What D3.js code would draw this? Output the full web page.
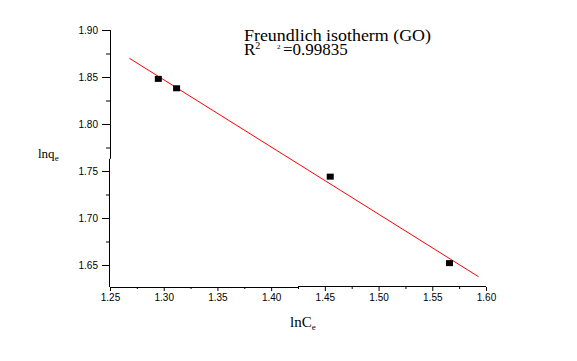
<!DOCTYPE html>
<html><head><meta charset="utf-8">
<script src="https://cdn.jsdelivr.net/npm/d3@7"></script>
<style>body{margin:0;background:#fff}svg{display:block}</style>
</head><body>
<script>
const lnCe = [1.295, 1.312, 1.455, 1.566];
const lnqe = [1.848, 1.838, 1.744, 1.652];
const fitIntercept = 2.7766;
const fitSlope = -0.715;
const fitRange = [1.268, 1.593];
const xTicks = [1.25, 1.30, 1.35, 1.40, 1.45, 1.50, 1.55, 1.60];
const yTicks = [1.65, 1.70, 1.75, 1.80, 1.85, 1.90];
const xMinor = [1.275, 1.325, 1.375, 1.425, 1.475, 1.525, 1.575];
const yMinor = [1.675, 1.725, 1.775, 1.825, 1.875];
const titleText = "Freundlich isotherm (GO)";
const r2Text = "=0.99835";

const W = 577, H = 361;
const svg = d3.select("body").append("svg").attr("width", W).attr("height", H);
const x = d3.scaleLinear().domain([1.25, 1.60]).range([110, 486]);
const y = d3.scaleLinear().domain([1.6266, 1.90]).range([287, 30]);
const axisY = y.range()[0];

// axes with ticks
const gx = svg.append("g").attr("transform", `translate(0,${axisY})`)
  .call(d3.axisBottom(x).tickValues(xTicks).tickSize(4).tickPadding(3).tickFormat(d3.format(".2f")));
gx.select(".domain").remove();
gx.selectAll("text").attr("font-family", "Liberation Sans, Arial, sans-serif").attr("font-size", 10).attr("fill", "#000");
svg.append("g").attr("transform", `translate(0,${axisY})`)
  .call(d3.axisBottom(x).tickValues(xMinor).tickSize(2).tickFormat(""))
  .select(".domain").remove();

const gy = svg.append("g").attr("transform", `translate(110,0)`)
  .call(d3.axisLeft(y).tickValues(yTicks).tickSize(8).tickPadding(4).tickFormat(d3.format(".2f")));
gy.select(".domain").remove();
gy.selectAll("text").attr("font-family", "Liberation Sans, Arial, sans-serif").attr("font-size", 10).attr("fill", "#000");
svg.append("g").attr("transform", `translate(110,0)`)
  .call(d3.axisLeft(y).tickValues(yMinor).tickSize(4).tickFormat(""))
  .select(".domain").remove();

svg.selectAll(".tick line").attr("stroke", "#000");

// axis lines (with the small break/offset seen in the original)
const yBreak = y(1.763), xBreak = x(1.425);
svg.append("line").attr("x1", 110.5).attr("x2", 110.5).attr("y1", y(1.90)).attr("y2", yBreak).attr("stroke", "#000");
svg.append("line").attr("x1", 109.5).attr("x2", 109.5).attr("y1", yBreak).attr("y2", axisY).attr("stroke", "#000");
svg.append("line").attr("x1", 110).attr("x2", xBreak).attr("y1", axisY + 0.5).attr("y2", axisY + 0.5).attr("stroke", "#000");
svg.append("line").attr("x1", xBreak).attr("x2", x(1.60)).attr("y1", axisY - 0.5).attr("y2", axisY - 0.5).attr("stroke", "#000");

// fit line
svg.append("line")
  .attr("x1", x(fitRange[0])).attr("y1", y(fitIntercept + fitSlope * fitRange[0]))
  .attr("x2", x(fitRange[1])).attr("y2", y(fitIntercept + fitSlope * fitRange[1]))
  .attr("stroke", "#ff0000").attr("stroke-width", 1);

// points
svg.selectAll("rect.pt").data(lnCe.map((v, i) => [v, lnqe[i]])).enter().append("rect")
  .attr("class", "pt")
  .attr("x", d => x(d[0]) - 3.5).attr("y", d => y(d[1]) - 3)
  .attr("width", 7).attr("height", 6).attr("fill", "#000");

const serif = "Liberation Serif, Times New Roman, serif";
// title
svg.append("text").attr("x", 244).attr("y", 41).attr("font-family", serif).attr("font-size", 17)
  .attr("textLength", 187).attr("lengthAdjust", "spacingAndGlyphs").text(titleText);
const r2 = svg.append("text").attr("x", 244).attr("y", 55).attr("font-family", serif).attr("font-size", 17);
r2.append("tspan").text("R");
r2.append("tspan").attr("font-size", 10).attr("dy", -6).text("2");
r2.append("tspan").attr("x", 277).attr("font-size", 7).text("2");
r2.append("tspan").attr("x", 283).attr("dy", 6).text(r2Text);

// axis titles
const xl = svg.append("text").attr("x", 290).attr("y", 327).attr("font-family", serif).attr("font-size", 15);
xl.append("tspan").text("lnC");
xl.append("tspan").attr("font-size", 9).attr("dy", 3).text("e");

const yl = svg.append("text").attr("x", 38).attr("y", 158).attr("font-family", serif).attr("font-size", 13);
yl.append("tspan").text("lnq");
yl.append("tspan").attr("font-size", 9).attr("dy", 3).text("e");
</script>
</body></html>
